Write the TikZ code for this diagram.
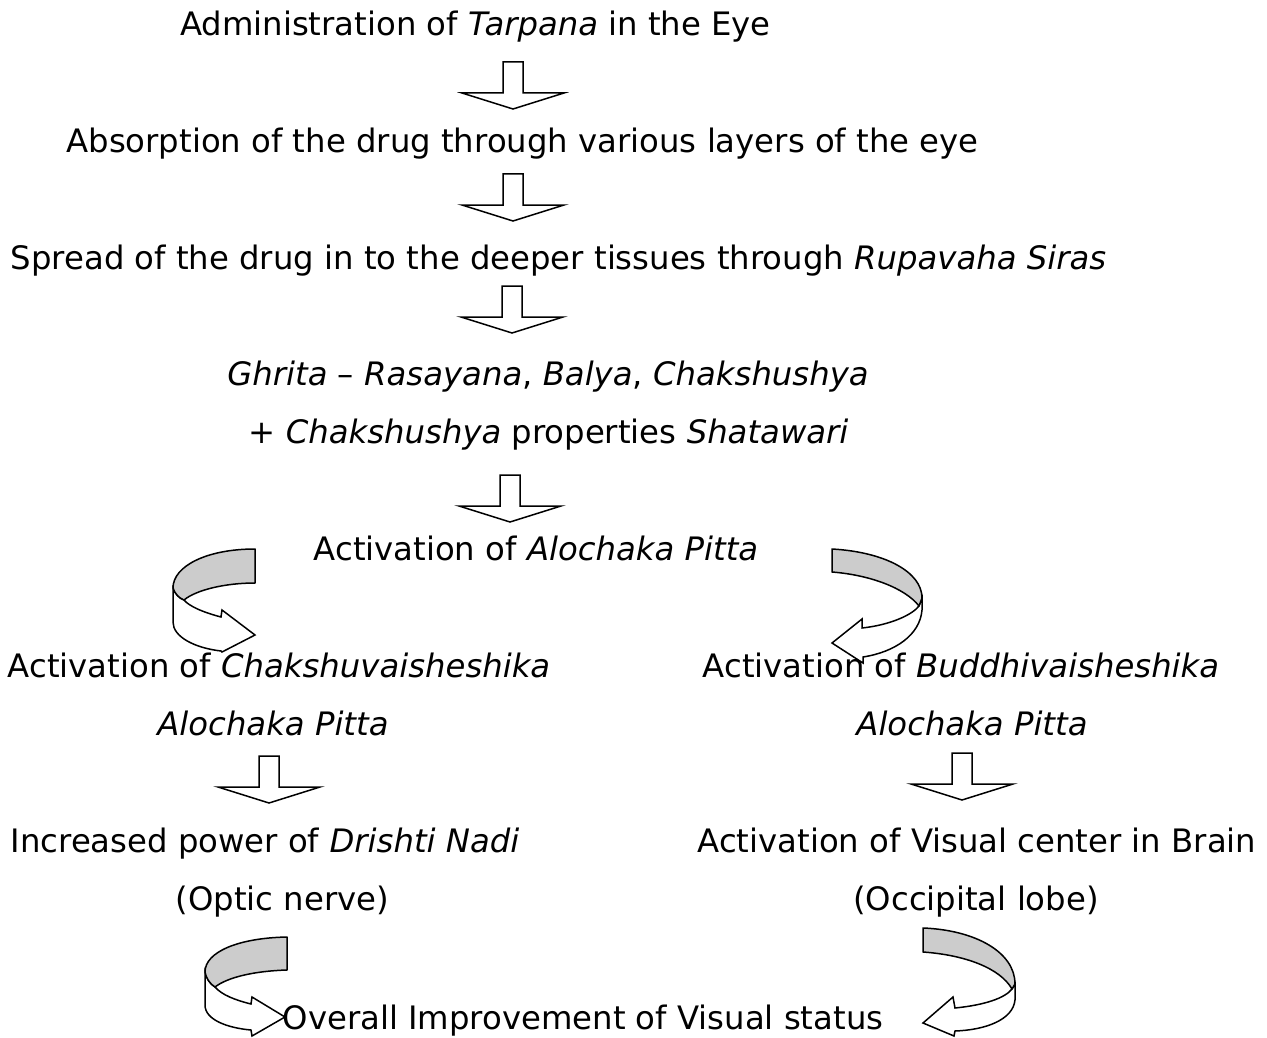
\documentclass[tikz,border=0pt]{standalone}
\usepackage{fontspec}
\setmainfont{DejaVu Sans}
\begin{document}
\begin{tikzpicture}[x=1pt,y=-1pt,
  lbl/.style={anchor=base,inner sep=0pt,font=\fontsize{32.3}{38}\selectfont},
  blk/.style={draw=black,line width=1.5pt,line join=miter,fill=white},
  back/.style={draw=black,line width=1.5pt,line join=round,fill={rgb,255:red,204;green,204;blue,204}},
  downarr/.pic={\path[blk] (-10,0) -- (10,0) -- (10,31) -- (51,31) -- (0,47) -- (-51,31) -- (-10,31) -- cycle;}
]
\useasboundingbox[fill=white] (0,0) rectangle (1267,1038);

% text nodes
\node[lbl] (t1) at (475.5,36) {Administration of \textit{Tarpana} in the Eye};
\node[lbl] (t2) at (522.5,153) {Absorption of the drug through various layers of the eye};
\node[lbl] (t3) at (558.5,269) {Spread of the drug in to the deeper tissues through \textit{Rupavaha Siras}};
\node[lbl] (t4) at (548,385) {\textit{Ghrita} – \textit{Rasayana}, \textit{Balya}, \textit{Chakshushya}};
\node[lbl] (t5) at (548.5,443) {+ \textit{Chakshushya} properties \textit{Shatawari}};
\node[lbl] (t6) at (536,560) {Activation of \textit{Alochaka Pitta}};
\node[lbl] (t7) at (279,677) {Activation of \textit{Chakshuvaisheshika}};
\node[lbl] (t8) at (273,735) {\textit{Alochaka Pitta}};
\node[lbl] (t9) at (961,677) {Activation of \textit{Buddhivaisheshika}};
\node[lbl] (t10) at (972,735) {\textit{Alochaka Pitta}};
\node[lbl] (t11) at (265,852) {Increased power of \textit{Drishti Nadi}};
\node[lbl] (t12) at (282.5,910) {(Optic nerve)};
\node[lbl] (t13) at (977,852) {Activation of Visual center in Brain};
\node[lbl] (t14) at (976,910) {(Occipital lobe)};

% straight block arrows
\pic (a1) at (513,62) {downarr};
\pic (a2) at (513,174) {downarr};
\pic (a3) at (512,286) {downarr};
\pic (a4) at (510,475) {downarr};
\pic (a5) at (269,756) {downarr};
\pic (a6) at (962,753) {downarr};

% curved arrow top-left
\path[blk] (173,588) -- (173,622) .. controls (173,637) and (195,648) .. (221,651)
  -- (222,652) -- (255,635) -- (222,610) -- (221,617)
  .. controls (202,612) and (189,606) .. (184,600)
  .. controls (179,598) and (175,594) .. (173,588) -- cycle;
\path[back] (255,549) .. controls (207,549) and (173,566) .. (173,588)
  .. controls (175,594) and (179,598) .. (184,600)
  .. controls (196,590) and (225,583) .. (255,583) -- cycle;

% curved arrow top-right
\path[blk] (922,598) -- (922,610) .. controls (920,635) and (895,652) .. (863,657)
  -- (863,663) -- (832,643) -- (862,619) -- (862,628)
  .. controls (890,625) and (912,615) .. (919,606) -- cycle;
\path[back] (832,549) .. controls (885,552) and (922,572) .. (922,598)
  -- (919,606) .. controls (905,588) and (870,575) .. (832,572) -- cycle;

% curved arrow bottom-left
\path[blk] (205,972) -- (205,1005) .. controls (205,1020) and (228,1028) .. (251,1030)
  -- (252,1036) -- (285,1017) -- (252,997) -- (251,1004)
  .. controls (235,1000) and (222,995) .. (215,987)
  .. controls (210,984) and (206,978) .. (205,972) -- cycle;
\path[back] (287,937) .. controls (238,938) and (205,952) .. (205,972)
  .. controls (206,978) and (210,984) .. (215,987)
  .. controls (228,977) and (255,971) .. (287,970) -- cycle;

% curved arrow bottom-right
\path[blk] (1015,984) -- (1015,1000) .. controls (1013,1020) and (985,1030) .. (955,1031)
  -- (954,1036) -- (923,1023) -- (953,997) -- (955,1008)
  .. controls (985,1005) and (1005,998) .. (1012,989) -- cycle;
\path[back] (923,928) .. controls (975,930) and (1015,952) .. (1015,984)
  -- (1012,989) .. controls (1000,968) and (965,955) .. (923,952) -- cycle;

\node[lbl] (t15) at (583,1029) {Overall Improvement of Visual status};
\end{tikzpicture}
\end{document}
